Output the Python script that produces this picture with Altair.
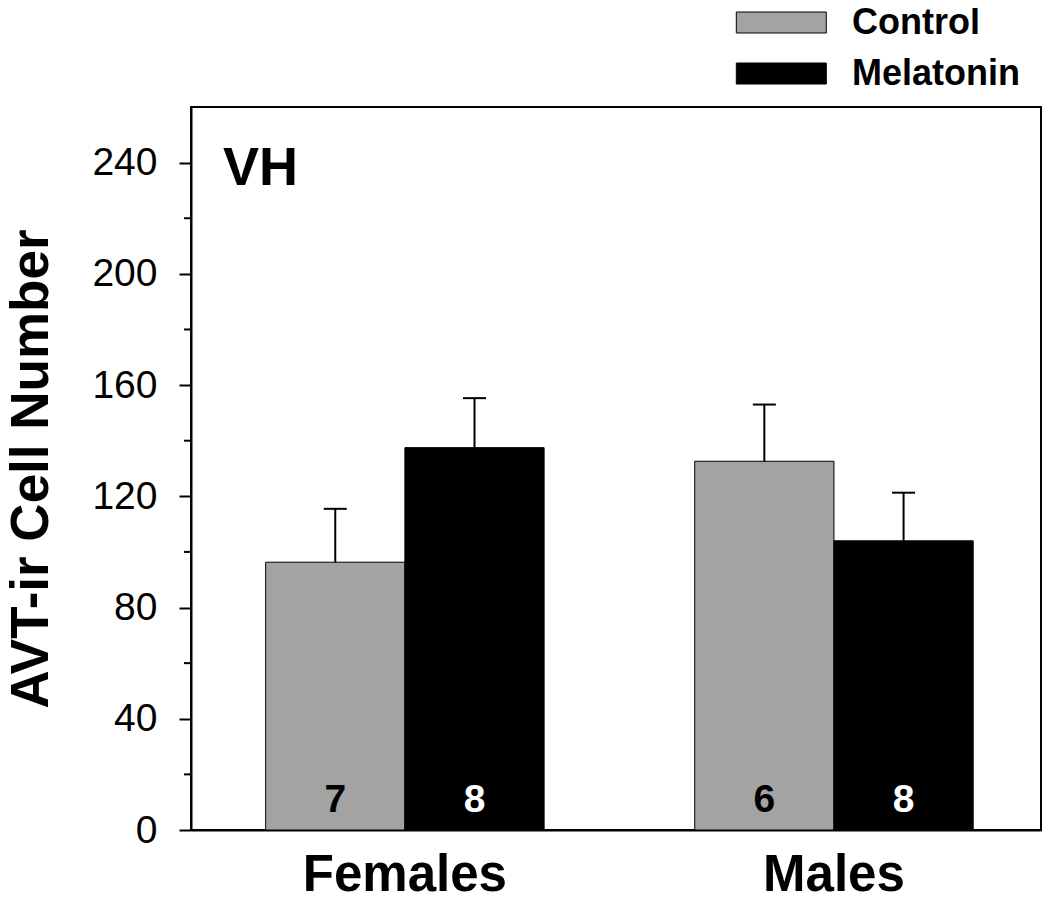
import altair as alt
import pandas as pd

groups = ["Females", "Females", "Males", "Males"]
treatments = ["Control", "Melatonin", "Control", "Melatonin"]
means = [96.3, 137.5, 132.6, 104.0]
sems = [19.2, 17.8, 20.4, 17.3]
ns = [7, 8, 6, 8]

group_order = ["Females", "Males"]
treatment_order = ["Control", "Melatonin"]
bar_colors = ["#a3a3a3", "#000000"]

major_ticks = [0, 40, 80, 120, 160, 200, 240]
minor_ticks = [20, 60, 100, 140, 180, 220]
panel_label = ["VH"]

FONT = "Liberation Sans"

df = pd.DataFrame({
    "group": groups,
    "treatment": treatments,
    "mean": means,
    "sem": sems,
    "n": [str(v) for v in ns],
})
df["upper"] = df["mean"] + df["sem"]
df["zero"] = 0

yscale = alt.Scale(domain=[0, 260], nice=False, zero=True)
yaxis = alt.Axis(
    values=major_ticks, grid=False, title="AVT-ir Cell Number",
    titleFontSize=53, titleFontWeight="bold", titleFont=FONT,
    titleColor="black", titlePadding=33,
    labelFontSize=39, labelFont=FONT, labelColor="black",
    labelPadding=22, tickSize=12, tickWidth=2, tickColor="black",
    domainColor="black", domainWidth=2,
)
xscale = alt.Scale(paddingInner=0.351, paddingOuter=0.166, align=0.524)
xaxis = alt.Axis(
    title=None, ticks=False, tickSize=0, labelAngle=0,
    labelFontSize=51, labelFontWeight="bold", labelFont=FONT,
    labelColor="black", labelPadding=20, labelLimit=500,
    domainColor="black", domainWidth=2,
)
xenc = alt.X("group:N", sort=group_order, scale=xscale, axis=xaxis)
xoff = alt.XOffset("treatment:N", sort=treatment_order,
                   scale=alt.Scale(paddingInner=0, paddingOuter=0))

base = alt.Chart(df)

bars = base.mark_bar(stroke="black", strokeWidth=1).encode(
    x=xenc,
    xOffset=xoff,
    y=alt.Y("mean:Q", scale=yscale, axis=yaxis),
    color=alt.Color(
        "treatment:N",
        sort=treatment_order,
        scale=alt.Scale(domain=treatment_order, range=bar_colors),
        legend=alt.Legend(
            title=None, orient="none", legendX=572.3, legendY=-102.5,
            symbolType="M-4.2857,-1H4.2857V1H-4.2857Z", symbolSize=441,
            symbolStrokeColor="black", symbolStrokeWidth=1, symbolOpacity=1,
            labelFontSize=36, labelFont=FONT, labelFontWeight="bold",
            labelColor="black", labelOffset=52.7, labelLimit=400,
            rowPadding=15, padding=0,
        ),
    ),
)

err_line = base.mark_rule(color="black", strokeWidth=2).encode(
    x=xenc,
    xOffset=xoff,
    y=alt.Y("mean:Q", scale=yscale, axis=yaxis),
    y2="upper:Q",
)

err_cap = base.mark_tick(color="black", size=23, thickness=2, opacity=1).encode(
    x=xenc,
    xOffset=xoff,
    y=alt.Y("upper:Q", scale=yscale, axis=yaxis),
)

n_text = base.mark_text(
    fontSize=39, fontWeight="bold", font=FONT, baseline="alphabetic", dy=-18
).encode(
    x=xenc,
    xOffset=xoff,
    y=alt.Y("zero:Q", scale=yscale, axis=yaxis),
    text="n:N",
    color=alt.condition(alt.datum.treatment == "Control",
                        alt.value("black"), alt.value("white")),
)

minor = alt.Chart(pd.DataFrame({"v": minor_ticks})).mark_rule(
    color="black", strokeWidth=2
).encode(
    y=alt.Y("v:Q", scale=yscale, axis=yaxis),
    x=alt.value(-7),
    x2=alt.value(0),
)

vh = alt.Chart(pd.DataFrame({"label": panel_label})).mark_text(
    fontSize=54, fontWeight="bold", font=FONT, align="left",
    baseline="alphabetic", color="black"
).encode(
    x=alt.value(32),
    y=alt.value(78),
    text="label:N",
)

chart = alt.layer(bars, err_line, err_cap, n_text, minor, vh).properties(
    width=850,
    height=723,
    autosize=alt.AutoSizeParams(type="none"),
    padding={"left": 183, "top": 99, "right": 1, "bottom": 68},
).configure(
    font=FONT
).configure_view(
    stroke="black", strokeWidth=2
)

chart.save("out.html", embed_options={"renderer": "svg", "actions": False})
